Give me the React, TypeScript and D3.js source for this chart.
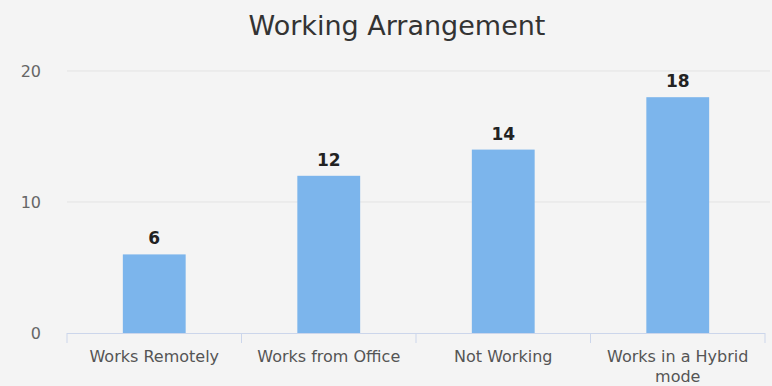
import React from "react";
import * as d3 from "d3";

const categories = ["Works Remotely", "Works from Office", "Not Working", "Works in a Hybrid mode"];
const categoryLines = [["Works Remotely"], ["Works from Office"], ["Not Working"], ["Works in a Hybrid", "mode"]];
const values = [6, 12, 14, 18];
const yTicks = [0, 10, 20];
const title = "Working Arrangement";

const W = 772;
const H = 386;
const font = "'DejaVu Sans', Verdana, sans-serif";

export default function App() {
  const x = d3.scaleBand<string>().domain(categories).range([67, 765]).paddingInner(0.64).paddingOuter(0.32);
  const y = d3.scaleLinear().domain([0, 20]).range([333, 71]);
  const step = x.step();
  const left = 67;
  return (
    <svg width={W} height={H} style={{ position: "absolute", left: 0, top: 0, display: "block" }}>
      <rect x={0} y={0} width={W} height={H} fill="#f4f4f4" />
      <text x={397} y={35} textAnchor="middle" fontFamily={font} fontSize={27} fill="#333">{title}</text>
      {yTicks.map((t) => (
        <g key={t}>
          {t !== 0 && <line x1={left} x2={770} y1={y(t)} y2={y(t)} stroke="#e3e3e3" strokeWidth={1} />}
          <text x={41} y={y(t) + 6} textAnchor="end" fontFamily={font} fontSize={16} fill="#666">{t}</text>
        </g>
      ))}
      {values.map((v, i) => (
        <rect key={i} x={x(categories[i])!} y={y(v)} width={x.bandwidth()} height={y(0) - y(v)} fill="#7cb5ec" />
      ))}
      <line x1={left} x2={765} y1={y(0) + 0.5} y2={y(0) + 0.5} stroke="#ccd6eb" strokeWidth={1} />
      {d3.range(categories.length + 1).map((i) => (
        <line key={i} x1={left + i * step} x2={left + i * step} y1={y(0)} y2={y(0) + 10} stroke="#ccd6eb" strokeWidth={1} />
      ))}
      {values.map((v, i) => (
        <text key={i} x={x(categories[i])! + x.bandwidth() / 2} y={y(v) - 10} textAnchor="middle" fontFamily={font} fontSize={17} fontWeight="bold" fill="#222">{v}</text>
      ))}
      {categoryLines.map((lines, i) => (
        <text key={i} x={x(categories[i])! + x.bandwidth() / 2} y={362} textAnchor="middle" fontFamily={font} fontSize={16} fill="#555">
          {lines.map((l, j) => (
            <tspan key={j} x={x(categories[i])! + x.bandwidth() / 2} dy={j === 0 ? 0 : 20}>{l}</tspan>
          ))}
        </text>
      ))}
    </svg>
  );
}
